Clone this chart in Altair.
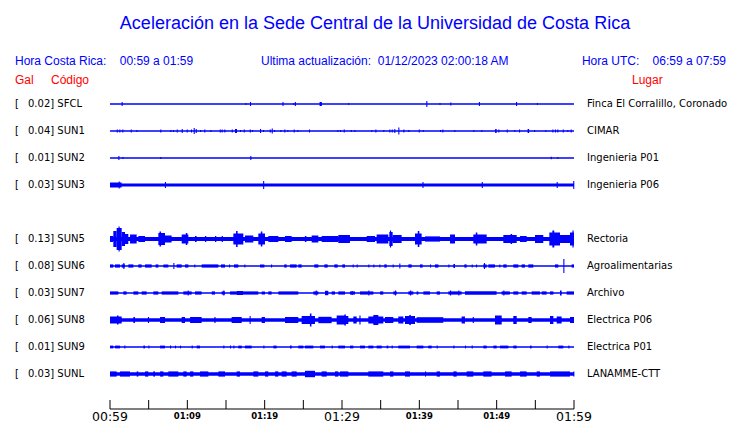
import altair as alt
import pandas as pd

# ---------------- data ----------------
codes = ["SFCL", "SUN1", "SUN2", "SUN3", "SUN5", "SUN6", "SUN7", "SUN8", "SUN9", "SUNL"]
gals = ["0.02", "0.04", "0.01", "0.03", "0.13", "0.08", "0.03", "0.06", "0.01", "0.03"]
sites = ["Finca El Corralillo, Coronado", "CIMAR", "Ingenieria P01", "Ingenieria P06",
         "Rectoria", "Agroalimentarias", "Archivo", "Electrica P06", "Electrica P01", "LANAMME-CTT"]
rows = [0, 1, 2, 3, 5, 6, 7, 8, 9, 10]
# half thickness of the continuous trace (px)
base_amp = [0.7, 0.7, 0.7, 1.6, 2.0, 0.7, 0.7, 1.8, 0.7, 1.8]

# bursts: [start minute, end minute, half amplitude px] (start == end -> single spike)
ev_SFCL = [[1.5, 1.5, 2], [17.5, 17.5, 1], [18.1, 18.1, 2], [22.3, 22.3, 2], [23.7, 23.7, 1],
           [23.9, 23.9, 2], [27.1, 27.4, 2], [30.8, 30.8, 1], [40.9, 40.9, 3], [42.6, 42.6, 1],
           [44.0, 44.0, 1.5], [47.7, 47.7, 2], [52.5, 52.5, 2], [55.2, 55.2, 1]]
ev_SUN1 = [[0.87, 0.87, 1.5], [1.2, 1.2, 1.5], [1.59, 1.59, 1.5], [2.68, 2.68, 1.5], [3.4, 3.4, 1],
           [6.5, 6.5, 1.5], [7.8, 7.8, 1], [8.15, 8.15, 1], [8.63, 8.63, 1.5], [9.27, 9.27, 2],
           [9.92, 9.92, 1.5], [10.47, 10.47, 1.5], [10.82, 10.82, 3], [11.08, 11.08, 2], [11.64, 11.64, 1],
           [12.19, 12.19, 1.5], [12.97, 12.97, 1], [14.19, 14.19, 1.5], [14.44, 14.44, 1.5],
           [14.78, 14.78, 1.5], [15.74, 15.74, 1.5], [16.16, 16.42, 2], [16.81, 16.81, 1],
           [17.29, 17.29, 1.5], [18.07, 18.07, 1.5], [18.36, 18.36, 1], [19.4, 19.4, 2], [19.78, 19.78, 1],
           [20.65, 20.65, 1.5], [20.91, 20.91, 2.5], [21.21, 21.21, 1], [22.02, 22.02, 1],
           [22.54, 22.54, 1.5], [22.93, 22.93, 1], [23.75, 23.75, 1.5], [24.22, 24.22, 1],
           [25.73, 25.73, 1.5], [29.39, 29.39, 1], [29.74, 29.74, 1], [30.22, 30.22, 1.5],
           [31.13, 31.13, 1], [31.59, 31.59, 1], [33.79, 33.79, 1], [34.31, 34.31, 1.5],
           [35.34, 35.34, 1], [36.12, 36.12, 1.5], [36.43, 36.43, 1.5], [36.76, 36.76, 2],
           [37.28, 37.28, 3.5], [37.93, 37.93, 1.5], [38.57, 38.57, 1], [39.92, 39.92, 1.5],
           [40.43, 40.43, 1], [42.67, 42.67, 1], [42.97, 42.97, 1.5], [44.52, 44.52, 1],
           [46.98, 46.98, 1], [48.01, 48.01, 1], [49.8, 50.0, 2], [50.21, 50.21, 1.5],
           [51.3, 51.3, 1.5], [52.28, 52.28, 1], [52.89, 52.89, 1.5], [54.0, 54.2, 2], [54.83, 54.83, 1],
           [56.29, 56.29, 1], [57.2, 57.2, 1.5], [57.54, 57.54, 1.5], [57.84, 57.84, 1.5],
           [58.54, 58.54, 1.5], [59.13, 59.13, 1], [59.57, 59.57, 1.5]]
ev_SUN2 = [[1.08, 1.08, 2], [1.6, 1.6, 1], [6.5, 6.5, 1], [18.14, 18.14, 2], [56.99, 56.99, 1.2],
           [57.84, 57.84, 1]]
ev_SUN3 = [[0.0, 1.5, 2.5], [1.12, 1.12, 3.5], [7.1, 7.1, 3], [19.8, 19.8, 4], [40.4, 40.4, 3],
           [48.07, 48.07, 3], [57.76, 57.76, 3], [59.9, 59.9, 4]]
ev_SUN5 = [[0, 0.43, 3], [0.43, 0.86, 8], [0.86, 1.51, 11], [1.1, 1.25, 12.5], [1.51, 1.94, 7],
           [1.94, 2.37, 5], [2.59, 3.45, 4.5], [3.66, 4.53, 3], [6.25, 7.11, 6], [6.4, 6.6, 7.5],
           [7.11, 7.97, 3.5], [9.27, 10.13, 4.5], [9.8, 10.0, 6], [10.99, 11.2, 3], [12.28, 12.45, 3],
           [13.58, 13.75, 3], [14.44, 14.6, 3], [15.95, 17.24, 5.5], [16.3, 16.5, 8], [17.46, 18.53, 3.5],
           [19.18, 20.04, 5.5], [19.5, 19.7, 7.5], [20.47, 21.77, 3], [22.63, 23.49, 3],
           [25.2, 25.4, 3], [26.08, 26.94, 3.5], [27.37, 29.52, 3], [29.52, 31.03, 4],
           [33.19, 34.27, 3], [34.48, 35.99, 4.5], [36.12, 36.55, 7], [36.2, 36.35, 8.5],
           [36.55, 37.71, 4], [39.44, 40.3, 5.5], [39.8, 40.0, 8], [40.73, 42.67, 2.6],
           [43.97, 44.61, 4.5], [46.98, 48.71, 4.5], [47.3, 47.5, 6.5], [50.86, 52.59, 4],
           [51.8, 52.0, 5], [53.02, 53.88, 3], [54.96, 56.03, 4], [56.81, 58.19, 6.5],
           [57.2, 57.45, 8.5], [58.19, 59.48, 4], [59.48, 60, 6.5], [59.8, 59.95, 8.5]]
ev_SUN6 = [[0, 0.43, 1.6], [0.65, 1.29, 1.6], [1.51, 1.94, 1.6], [1.72, 1.72, 3], [2.37, 3.02, 1.6],
           [3.66, 4.09, 1.6], [4.53, 5.39, 1.6], [5.9, 6.25, 1.6], [6.9, 7.54, 1.6], [8.19, 8.19, 3],
           [8.62, 9.27, 1.6], [9.7, 10.13, 1.6], [10.9, 10.9, 1.6], [11.85, 14.01, 1.6],
           [14.35, 14.87, 1.6], [15.39, 15.39, 1.6], [16.03, 16.59, 1.6], [17.37, 17.37, 1.6],
           [19.4, 19.96, 1.6], [20.82, 20.82, 1.6], [22.54, 22.84, 1.6], [23.28, 24.14, 1.6],
           [24.35, 24.78, 1.6], [26.42, 26.94, 1.6], [27.72, 28.15, 1.6], [29.01, 29.44, 1.6],
           [30.04, 30.39, 1.6], [31.38, 31.38, 1.6], [31.9, 31.9, 1.6], [33.4, 33.4, 1.6],
           [34.05, 34.05, 1.6], [34.83, 34.83, 1.6], [35.47, 35.78, 1.6], [36.55, 36.55, 1.6],
           [37.41, 37.41, 2.5], [38.58, 39.01, 1.6], [40.08, 40.43, 1.6], [41.38, 41.38, 1.6],
           [42.02, 42.46, 1.6], [43.75, 43.75, 1.6], [44.4, 44.61, 2], [45.82, 46.12, 1.6],
           [46.77, 46.77, 1.6], [47.33, 47.33, 1.6], [48.27, 48.71, 1.6], [48.35, 48.35, 3],
           [48.92, 49.78, 1.6], [50.34, 50.34, 1.6], [50.86, 51.29, 1.6], [52.15, 52.8, 1.6],
           [53.23, 53.66, 1.6], [54.09, 54.74, 1.6], [57.54, 57.97, 1.6], [58.62, 58.62, 7],
           [59.7, 60, 1.6]]
ev_SUN7 = [[0, 1.08, 1.6], [1.72, 2.15, 1.6], [3.02, 3.66, 1.6], [4.09, 4.74, 1.6], [5.6, 6.25, 1.6],
           [6.68, 8.84, 1.6], [9.48, 10.56, 1.6], [10.04, 10.04, 2.5], [10.99, 11.85, 1.6],
           [13.15, 13.58, 1.6], [14.44, 14.87, 1.6], [14.65, 14.65, 2.5], [15.52, 19.18, 1.6],
           [16.4, 17.2, 2], [19.61, 20.04, 1.6], [20.47, 20.9, 1.6], [21.77, 24.35, 1.6],
           [26.29, 26.94, 1.6], [26.6, 26.6, 2.5], [27.8, 28.23, 2.2], [28.66, 29.09, 1.6],
           [29.52, 30.39, 1.6], [31.03, 31.68, 1.6], [31.25, 31.25, 2], [32.33, 34.05, 1.6],
           [33.4, 33.4, 2.5], [34.91, 35.34, 1.6], [36.64, 37.07, 1.6], [36.85, 36.85, 2.5],
           [38.58, 39.22, 1.6], [38.8, 38.8, 2.5], [39.65, 39.87, 1.6], [40.52, 41.38, 1.6],
           [42.24, 42.67, 1.6], [43.75, 45.47, 1.6], [43.97, 43.97, 2.5], [45.04, 45.04, 2.5],
           [45.9, 49.99, 1.8], [50.64, 51.72, 1.6], [50.86, 50.86, 2.5], [52.15, 52.8, 1.6],
           [53.23, 53.88, 1.6], [54.52, 55.6, 1.6], [55.82, 56.46, 1.6], [56.89, 57.33, 1.6],
           [58.19, 58.4, 2.5], [59.05, 60, 1.6]]
ev_SUN8 = [[0, 1.51, 3.5], [0.9, 1.1, 4.5], [3.02, 3.23, 3], [4.9, 5.05, 3], [6.47, 7.11, 3],
           [9.27, 9.7, 3], [10.35, 11.85, 3], [13.5, 13.65, 3], [15.73, 17.03, 3], [18.05, 18.15, 4],
           [19.61, 20.04, 3], [22.63, 24.35, 3], [24.78, 26.51, 4], [25.85, 26.05, 6.5],
           [26.94, 28.66, 3.2], [29.31, 30.39, 4.5], [29.74, 30.82, 4], [30.3, 30.5, 5.5],
           [31.46, 31.9, 3.5], [32.25, 32.4, 4.5], [33.4, 35.34, 3.5], [34.05, 34.7, 5],
           [35.56, 36.64, 3], [37.28, 37.93, 3.5], [38.15, 39.44, 4], [38.7, 38.9, 5],
           [39.65, 43.1, 2.8], [45.47, 45.9, 3.5], [46.9, 47.05, 3], [49.78, 50.65, 4.5],
           [52.15, 52.59, 4], [54.09, 54.52, 3], [56.9, 57.33, 4], [57.76, 58.4, 3.5], [59.48, 60, 3]]
ev_SUN9 = [[0, 0.43, 1.4], [0.65, 1.29, 1.4], [1.85, 1.85, 1.4], [4.31, 4.53, 1.4], [4.96, 4.96, 1.4],
           [6.47, 7.11, 1.4], [7.76, 7.76, 1.4], [8.4, 8.4, 1.4], [9.05, 9.05, 1.4], [10.56, 10.56, 1.4],
           [11.21, 11.64, 1.4], [14.65, 14.65, 1.4], [15.52, 15.52, 1.4], [15.95, 15.95, 1.4],
           [16.59, 17.03, 1.4], [17.46, 18.32, 1.4], [19.83, 19.83, 1.4], [21.12, 21.55, 1.4],
           [23.28, 23.49, 1.4], [24.35, 25.0, 1.4], [25.21, 26.29, 1.4], [27.15, 27.8, 1.4],
           [28.66, 28.66, 1.4], [29.52, 30.39, 1.4], [31.03, 31.46, 1.4], [32.33, 32.97, 1.4],
           [33.4, 34.05, 1.4], [34.48, 35.13, 1.4], [35.77, 35.99, 1.4], [36.42, 36.42, 1.4],
           [37.28, 38.79, 1.4], [39.65, 40.52, 1.4], [41.16, 41.59, 1.4], [42.24, 42.24, 1.4],
           [44.4, 44.4, 1.4], [45.9, 45.9, 1.4], [46.77, 46.77, 1.4], [48.27, 48.71, 1.4],
           [49.57, 50.0, 1.4], [50.43, 51.51, 1.4], [52.15, 52.59, 1.4], [54.31, 54.52, 1.4],
           [56.46, 56.46, 1.4], [57.97, 58.62, 1.4], [59.27, 59.27, 1.4]]
ev_SUNL = [[0, 0.86, 2.6], [1.29, 2.59, 2.6], [3.45, 3.66, 2.6], [4.53, 4.96, 2.6], [5.6, 5.82, 2.6],
           [6.47, 6.9, 2.6], [7.54, 8.84, 2.6], [9.48, 9.91, 2.6], [10.35, 10.78, 2.6],
           [11.64, 12.72, 2.6], [14.01, 14.87, 2.6], [16.38, 16.81, 2.6], [18.53, 19.18, 2.6],
           [20.04, 20.47, 2.6], [21.34, 21.77, 2.6], [22.2, 22.84, 2.6], [23.49, 24.14, 2.6],
           [25.21, 26.51, 3.2], [27.37, 28.02, 2.6], [29.09, 29.52, 2.6], [29.74, 30.82, 2.6],
           [33.4, 35.34, 2.6], [36.2, 36.64, 2.6], [38.15, 38.79, 2.6], [40.73, 40.73, 2.6],
           [42.24, 42.67, 2.6], [44.4, 44.83, 2.6], [46.12, 46.98, 2.6], [48.27, 49.35, 2.6],
           [51.08, 51.94, 2.6], [53.02, 53.88, 2.6], [55.17, 55.6, 2.6], [56.9, 59.48, 2.6],
           [59.91, 59.91, 2.6]]
events = [ev_SFCL, ev_SUN1, ev_SUN2, ev_SUN3, ev_SUN5, ev_SUN6, ev_SUN7, ev_SUN8, ev_SUN9, ev_SUNL]

tick_minutes = [0, 5, 10, 15, 20, 25, 30, 35, 40, 45, 50, 55, 60]
major_ticks = [0, 30, 60]
major_labels = ["00:59", "01:29", "01:59"]
minor_ticks = [10, 20, 40, 50]
minor_labels = ["01:09", "01:19", "01:39", "01:49"]

NB = "\u00a0"  # keeps the runs of spaces of the original header
title_text = "Aceleración en la Sede Central de la Universidad de Costa Rica"
hora_cr = "Hora Costa Rica:" + NB * 4 + "00:59 a 01:59"
ultima = "Ultima actualización:" + NB * 2 + "01/12/2023 02:00:18 AM"
hora_utc = "Hora UTC:" + NB * 4 + "06:59 a 07:59"

# ---------------- tables ----------------
PX_PER_ROW = 27.0
SPIKE_W = 0.14
BLUE = "#0000ff"

base_df = pd.DataFrame({
    "row": rows, "t0": [0] * len(rows), "t1": [60] * len(rows),
    "ylo": [r - max(a, 0.7) / PX_PER_ROW for r, a in zip(rows, base_amp)],
    "yhi": [r + max(a, 0.7) / PX_PER_ROW for r, a in zip(rows, base_amp)],
})
recs = []
for r, evs in zip(rows, events):
    for s, e, a in evs:
        recs.append({"t0": s, "t1": max(e, s + SPIKE_W),
                     "ylo": r - a / PX_PER_ROW, "yhi": r + a / PX_PER_ROW})
ev_df = pd.DataFrame(recs)
lab_df = pd.DataFrame({"row": rows, "left": [g + "] " + c for g, c in zip(gals, codes)],
                       "site": sites, "br": ["["] * len(rows)})
tick_df = pd.DataFrame({"t": tick_minutes})
axis_df = pd.DataFrame({"t0": [0], "t1": [60]})
major_df = pd.DataFrame({"t": major_ticks, "lab": major_labels})
minor_df = pd.DataFrame({"t": minor_ticks, "lab": minor_labels})

xs = alt.Scale(domain=[0, 60], range=[102, 566])
ys = alt.Scale(domain=[0, 10], range=[96, 366])

base = alt.Chart(base_df).mark_rect(color=BLUE).encode(
    x=alt.X("t0:Q", scale=xs, axis=None), x2="t1:Q",
    y=alt.Y("ylo:Q", scale=ys, axis=None), y2="yhi:Q")
bursts = alt.Chart(ev_df).mark_rect(color=BLUE).encode(
    x=alt.X("t0:Q", scale=xs, axis=None), x2="t1:Q",
    y=alt.Y("ylo:Q", scale=ys, axis=None), y2="yhi:Q")

lab_font = "DejaVu Sans"
bracket = alt.Chart(lab_df).mark_text(align="left", baseline="middle", font=lab_font, fontSize=10,
                                      color="black").encode(
    x=alt.value(7), y=alt.Y("row:Q", scale=ys, axis=None), text="br:N")
left_lab = alt.Chart(lab_df).mark_text(align="left", baseline="middle", font=lab_font, fontSize=10,
                                       color="black").encode(
    x=alt.value(20), y=alt.Y("row:Q", scale=ys, axis=None), text="left:N")
site_lab = alt.Chart(lab_df).mark_text(align="left", baseline="middle", font=lab_font, fontSize=10,
                                       color="black").encode(
    x=alt.value(579), y=alt.Y("row:Q", scale=ys, axis=None), text="site:N")

hdr_df = pd.DataFrame({
    "txt": [title_text, hora_cr, ultima, hora_utc, "Gal", "Código", "Lugar"],
    "px": [367, 7, 253, 718, 7, 43, 624],
    "py": [15.5, 53, 53, 53, 72, 72, 72],
})

def htext(i, align, size, color):
    return alt.Chart(hdr_df.iloc[[i]]).mark_text(
        align=align, baseline="middle", font="Liberation Sans", fontSize=size, color=color
    ).encode(x=alt.value(float(hdr_df.px[i])), y=alt.value(float(hdr_df.py[i])), text="txt:N")

title = htext(0, "center", 18, BLUE)
h1 = htext(1, "left", 12, BLUE)
h2 = htext(2, "left", 12, BLUE)
h3 = htext(3, "right", 12, BLUE)
r1 = htext(4, "left", 12, "#ff0000")
r2 = htext(5, "left", 12, "#ff0000")
r3 = htext(6, "left", 12, "#ff0000")

axis_line = alt.Chart(axis_df).mark_rule(color="black", strokeWidth=1).encode(
    x=alt.X("t0:Q", scale=xs, axis=None), x2="t1:Q", y=alt.value(401))
ticks = alt.Chart(tick_df).mark_rule(color="black", strokeWidth=1).encode(
    x=alt.X("t:Q", scale=xs, axis=None), y=alt.value(392), y2=alt.value(401))
major = alt.Chart(major_df).mark_text(baseline="middle", font=lab_font, fontSize=12.5,
                                      color="black").encode(
    x=alt.X("t:Q", scale=xs, axis=None), y=alt.value(409), text="lab:N")
minor = alt.Chart(minor_df).mark_text(baseline="middle", font=lab_font, fontSize=8.5,
                                      fontWeight="bold", color="black").encode(
    x=alt.X("t:Q", scale=xs, axis=None), y=alt.value(408), text="lab:N")

chart = alt.layer(base, bursts, bracket, left_lab, site_lab, title, h1, h2, h3, r1, r2, r3,
                  axis_line, ticks, major, minor).properties(
    width=724, height=415, autosize=alt.AutoSizeParams(type="none"), padding=0,
    background="white"
).configure_view(stroke=None)

chart.save("out.html", embed_options={"renderer": "svg", "actions": False})
